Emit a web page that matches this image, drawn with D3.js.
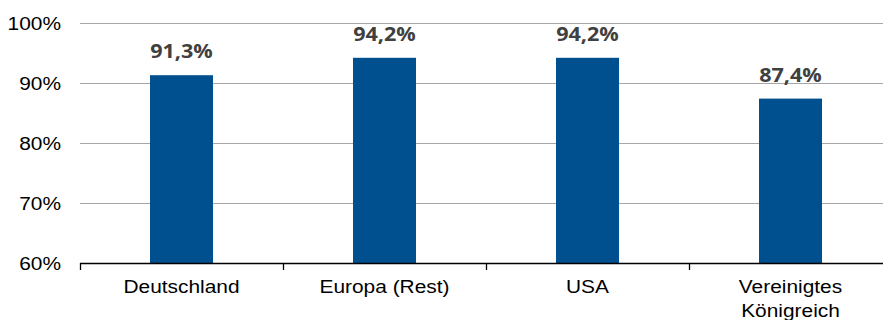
<!DOCTYPE html>
<html>
<head>
<meta charset="utf-8">
<script src="https://cdn.jsdelivr.net/npm/d3@7"></script>
<style>
  html, body { margin: 0; padding: 0; background: #fff; }
  svg { display: block; }
</style>
</head>
<body>
<svg id="chart" width="883" height="320"></svg>
<script>
// Anteil je Region (in Prozent)
const categories = ["Deutschland", "Europa (Rest)", "USA", "Vereinigtes Königreich"];
const values = [91.3, 94.2, 94.2, 87.4];
const yTicks = [60, 70, 80, 90, 100];

const svg = d3.select("#chart");
const plotLeft = 80, bandW = 203, plotTop = 23, plotBottom = 263;

const x = d3.scaleBand()
  .domain(categories)
  .range([plotLeft, plotLeft + bandW * categories.length])
  .paddingInner(0).paddingOuter(0);

const y = d3.scaleLinear().domain([60, 100]).range([plotBottom, plotTop]);

const barW = 63;
const fmt = v => v.toFixed(1).replace(".", ",") + "%";

// horizontal gridlines
svg.append("g")
  .selectAll("line")
  .data(yTicks.filter(t => t > 60))
  .join("line")
  .attr("x1", plotLeft).attr("x2", 883)
  .attr("y1", d => Math.round(y(d)) + 0.5)
  .attr("y2", d => Math.round(y(d)) + 0.5)
  .attr("stroke", "#a6a6a6")
  .attr("stroke-width", 1);

// y tick labels
svg.append("g")
  .selectAll("text")
  .data(yTicks)
  .join("text")
  .attr("transform", d => `translate(61,${y(d) + 6.5}) scale(1.13,1)`)
  .attr("text-anchor", "end")
  .attr("font-family", "Liberation Sans, Arial, sans-serif")
  .attr("font-size", 18.5)
  .attr("fill", "#000")
  .text(d => d + "%");

// bars
svg.append("g")
  .selectAll("rect")
  .data(categories.map((c, i) => ({ c, v: values[i] })))
  .join("rect")
  .attr("x", d => x(d.c) + x.bandwidth() / 2 - barW / 2)
  .attr("width", barW)
  .attr("y", d => y(d.v))
  .attr("height", d => y(60) - y(d.v))
  .attr("fill", "#004f8f");

// value labels
svg.append("g")
  .selectAll("text")
  .data(categories.map((c, i) => ({ c, v: values[i] })))
  .join("text")
  .attr("transform", d => `translate(${x(d.c) + x.bandwidth() / 2},${y(d.v) - 17}) scale(1.08,1)`)
  .attr("text-anchor", "middle")
  .attr("font-family", "Open Sans, sans-serif")
  .attr("font-weight", 700)
  .attr("font-size", 20)
  .attr("fill", "#404040")
  .text(d => fmt(d.v));

// x axis
const xAxis = d3.axisBottom(x).tickSize(0).tickFormat("");
const gx = svg.append("g").attr("transform", `translate(0,${plotBottom})`).call(xAxis);
gx.select(".domain").remove();
gx.append("line")
  .attr("x1", plotLeft).attr("x2", 883)
  .attr("y1", 0.5).attr("y2", 0.5)
  .attr("stroke", "#000").attr("stroke-width", 1.3);
gx.selectAll(".sep")
  .data(d3.range(categories.length + 1).map(i => plotLeft + i * bandW))
  .join("line")
  .attr("class", "sep")
  .attr("x1", d => d + 0.5).attr("x2", d => d + 0.5)
  .attr("y1", 0).attr("y2", 7)
  .attr("stroke", "#000").attr("stroke-width", 1.3);

// category labels (wrapped for the long one)
const lines = { "Vereinigtes Königreich": ["Vereinigtes", "Königreich"] };
categories.forEach(c => {
  const parts = lines[c] || [c];
  parts.forEach((p, j) => {
    svg.append("text")
      .attr("transform", `translate(${x(c) + x.bandwidth() / 2},${293 + j * 24}) scale(1.13,1)`)
      .attr("text-anchor", "middle")
      .attr("font-family", "Liberation Sans, Arial, sans-serif")
      .attr("font-size", 18.5)
      .attr("fill", "#000")
      .text(p);
  });
});
</script>
</body>
</html>
